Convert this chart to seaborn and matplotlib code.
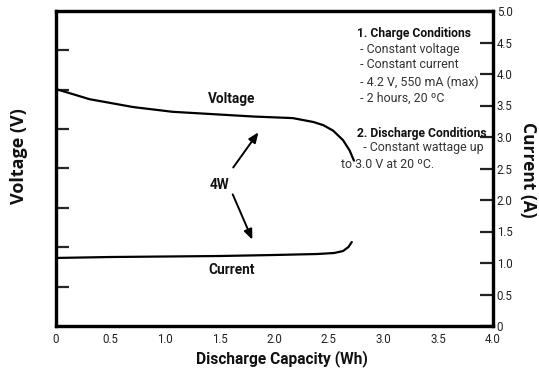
import matplotlib
matplotlib.use("Agg")
import matplotlib.pyplot as plt
import seaborn as sns
import pandas as pd

# ---- data ----
volt_x = [0.0, 0.31, 0.71, 1.07, 1.44, 1.81, 2.17, 2.36, 2.45, 2.54, 2.63, 2.69, 2.73]
volt_y = [3.01, 2.88, 2.78, 2.72, 2.69, 2.66, 2.64, 2.59, 2.55, 2.48, 2.36, 2.23, 2.10]
curr_x = [0.0, 0.5, 1.0, 1.5, 2.0, 2.4, 2.55, 2.63, 2.68, 2.71]
curr_y = [1.08, 1.095, 1.103, 1.111, 1.127, 1.143, 1.159, 1.19, 1.254, 1.333]
x_ticks = [0, 0.5, 1.0, 1.5, 2.0, 2.5, 3.0, 3.5, 4.0]
x_tick_labels = ["0", "0.5", "1.0", "1.5", "2.0", "2.5", "3.0", "3.5", "4.0"]
cur_ticks = [0, 0.5, 1.0, 1.5, 2.0, 2.5, 3.0, 3.5, 4.0, 4.5, 5.0]
cur_tick_labels = ["0", "0.5", "1.0", "1.5", "2.0", "2.5", "3.0", "3.5", "4.0", "4.5", "5.0"]
volt_ticks = [0.5, 1.0, 1.5, 2.0, 2.5, 3.0, 3.5]
notes = [
    ("1. Charge Conditions", True),
    (" - Constant voltage", False),
    (" - Constant current", False),
    (" - 4.2 V, 550 mA (max)", False),
    (" - 2 hours, 20 ºC", False),
    ("2. Discharge Conditions", True),
    ("  - Constant wattage up", False),
    ("to 3.0 V at 20 ºC.", False),
]

sns.set_style("white")
NARROW = ["Roboto", "DejaVu Sans"]
plt.rcParams["font.family"] = ["Open Sans", "DejaVu Sans"]

W, H = 539, 370
fig = plt.figure(figsize=(W / 100, H / 100), dpi=100)
L, R, T, B = 55.7, 492.7, 11, 326
ax = fig.add_axes([L / W, 1 - B / H, (R - L) / W, (B - T) / H])  # current axis (right ticks)
axv = ax.twinx()  # voltage axis (left ticks)

dv = pd.DataFrame({"x": volt_x, "y": volt_y})
dc = pd.DataFrame({"x": curr_x, "y": curr_y})
sns.lineplot(data=dv, x="x", y="y", ax=axv, color="black", linewidth=1.6, sort=False)
sns.lineplot(data=dc, x="x", y="y", ax=ax, color="black", linewidth=1.6, sort=False)

ax.set_xlim(0, 4)
ax.set_ylim(0, 5)
axv.set_ylim(0, 4)

for a in (ax, axv):
    for s in a.spines.values():
        s.set_linewidth(2.3)
        s.set_color("black")

ax.set_xticks(x_ticks)
ax.set_xticklabels(x_tick_labels, family=NARROW)
ax.yaxis.tick_right()
ax.yaxis.set_label_position("right")
ax.set_yticks(cur_ticks)
ax.set_yticklabels(cur_tick_labels, family=NARROW)
ax.tick_params(axis="both", direction="in", length=9.5, width=1.6, labelsize=8.3,
               colors="#222222", pad=5)
ax.tick_params(axis="y", pad=3)

axv.yaxis.tick_left()
axv.yaxis.set_label_position("left")
axv.set_yticks(volt_ticks)
axv.set_yticklabels([])
axv.tick_params(axis="y", direction="in", length=9.5, width=1.6, left=True, right=False)

ax.set_xlabel("Discharge Capacity (Wh)", fontsize=11.2, fontweight="bold", family=NARROW,
              color="#111111")
ax.xaxis.set_label_coords(0.518, -0.075)
ax.set_ylabel("Current (A)", fontsize=12.5, fontweight="bold", rotation=270, va="center",
              color="#111111")
ax.yaxis.set_label_coords(1.081, 0.495)
axv.set_ylabel("Voltage (V)", fontsize=13, fontweight="bold", va="center", color="#111111")
axv.yaxis.set_label_coords(-0.084, 0.54)
axv.set_xlabel("")

lab = dict(fontsize=9.8, fontweight="bold", ha="center", va="center", family=NARROW,
           color="#111111")
ax.text(1.61, 3.60, "Voltage", **lab)
ax.text(1.61, 0.89, "Current", **lab)
ax.text(1.50, 2.24, "4W", **lab)
arrow = dict(arrowstyle="-|>,head_length=0.6,head_width=0.25", color="black", lw=1.4)
ax.annotate("", xy=(1.87, 3.11), xytext=(1.61, 2.48), arrowprops=arrow)
ax.annotate("", xy=(1.81, 1.33), xytext=(1.61, 2.13), arrowprops=arrow)

ys = [33, 49, 65, 82, 98, 133, 148, 164]
xs = [357, 357, 357, 357, 357, 357, 357, 341]
for (txt, bold), y, x in zip(notes, ys, xs):
    fig.text(x / W, 1 - y / H, txt, fontsize=8.7 if bold else 8.9,
             fontweight="bold" if bold else "normal", ha="left", va="center",
             color="#111111" if bold else "#333333", family=NARROW)

fig.savefig("out.png", dpi=100)
